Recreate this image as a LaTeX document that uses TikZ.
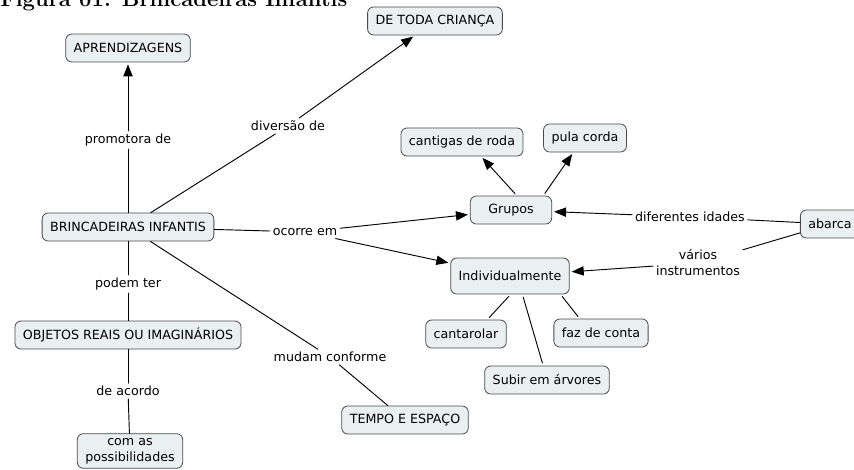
\documentclass[tikz,border=0pt]{standalone}
\usepackage{fontspec}
\usetikzlibrary{arrows.meta}
\newfontfamily\mapfont{DejaVu Sans}
\definecolor{conceptfill}{HTML}{EAF0F2}
\definecolor{conceptdraw}{HTML}{4A4A4A}
\begin{document}
\begin{tikzpicture}[
  x=0.75pt, y=-0.75pt,
  line cap=round, line join=round,
  concept/.style={draw=conceptdraw, fill=conceptfill, rounded corners=4.5pt, line width=0.6pt,
    font=\mapfont\fontsize{9.5}{12}\selectfont, inner xsep=6pt, minimum height=21pt},
  phrase/.style={font=\mapfont\fontsize{9.5}{12}\selectfont, inner sep=2pt},
  link/.style={draw=black, line width=0.7pt},
  arrow/.style={link, -{Triangle[length=9pt,width=7pt]}, shorten >=1.5pt},
  short/.style={shorten <=2pt, shorten >=2pt},
]
\useasboundingbox (0,0) rectangle (854,469);
\clip (0,0) rectangle (854,469);
\node[anchor=base west, inner sep=0pt, font=\bfseries\fontsize{16.5}{19}\selectfont] (titulo) at (0,6) {Figura 01: Brincadeiras Infantis};
\node[concept] (aprend) at (128,48) {APRENDIZAGENS};
\node[concept] (toda) at (435,21) {DE TODA CRIANÇA};
\node[concept] (brinc) at (128,227) {BRINCADEIRAS INFANTIS};
\node[concept] (objetos) at (128,335) {OBJETOS REAIS OU IMAGINÁRIOS};
\node[concept, align=center] (possib) at (130,451) {com as\\possibilidades};
\node[concept] (tempo) at (405,420) {TEMPO E ESPAÇO};
\node[concept] (cantigas) at (462,142) {cantigas de roda};
\node[concept] (pula) at (585,138) {pula corda};
\node[concept, minimum width=61pt] (grupos) at (511,210) {Grupos};
\node[concept, minimum height=27pt] (indiv) at (510,276) {Individualmente};
\node[concept] (cantar) at (466,334) {cantarolar};
\node[concept] (faz) at (601,333) {faz de conta};
\node[concept] (subir) at (547,380) {Subir em árvores};
\node[concept] (abarca) at (830,224) {abarca};
\node[phrase] (promo) at (128,140) {promotora de};
\node[phrase] (divers) at (288,126) {diversão de};
\node[phrase] (ocorre) at (305,232) {ocorre em};
\node[phrase] (podem) at (128,284) {podem ter};
\node[phrase] (acordo) at (128,391) {de acordo};
\node[phrase] (mudam) at (330,357) {mudam conforme};
\node[phrase] (idades) at (690,217) {diferentes idades};
\node[phrase, align=center] (instr) at (698,263) {vários\\instrumentos};
\draw[link] (brinc) -- (promo);
\draw[arrow] (promo) -- (aprend);
\draw[link] (brinc) -- (divers);
\draw[arrow] (divers) -- (toda);
\draw[link] (brinc) -- (ocorre);
\draw[arrow] (ocorre) -- (grupos);
\draw[arrow] (ocorre) -- (indiv);
\draw[link] (brinc) -- (podem);
\draw[link] (podem) -- (objetos);
\draw[link] (objetos) -- (acordo);
\draw[link] (acordo) -- (possib);
\draw[link] (brinc) -- (mudam);
\draw[link] (mudam) -- (tempo);
\draw[arrow, shorten <=2pt] (grupos.68) -- (cantigas.-37);
\draw[arrow, shorten <=2pt] (grupos.24) -- (pula.-129);
\draw[link] (abarca) -- (idades);
\draw[arrow] (idades) -- (grupos);
\draw[link] (abarca) -- (instr);
\draw[arrow] (instr) -- (indiv);
\draw[link, short] (indiv.-88) -- (cantar.34);
\draw[link, short] (indiv.-56) -- (subir.105);
\draw[link, short] (indiv.-20) -- (faz.146);
\end{tikzpicture}
\end{document}
